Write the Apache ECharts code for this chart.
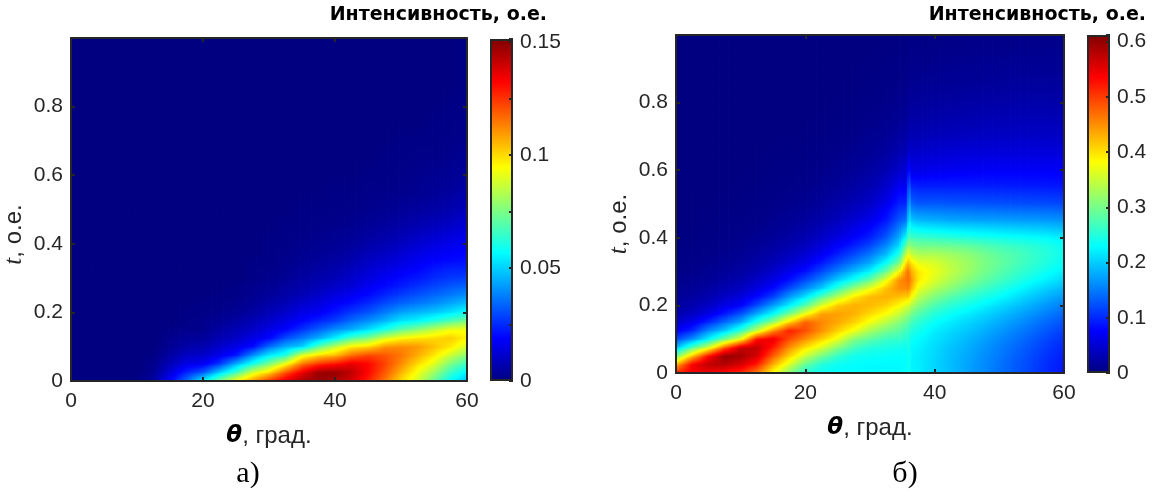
<!DOCTYPE html>
<html><head><meta charset="utf-8">
<script src="https://cdn.jsdelivr.net/npm/echarts/dist/echarts.min.js"></script>
<style>html,body{margin:0;padding:0;background:#fff}#c{width:1153px;height:504px}</style>
</head><body><div id="c"></div>
<script>
// ---------- data (node values) ----------
const thetaA = [0,2.5,5,7.5,10,12.5,15,17.5,20,22.5,25,27.5,30,32.5,35,37.5,40,42.5,45,47.5,50,52.5,55,57.5,60];
const thetaB = [0,2.5,5,7.5,10,12.5,15,17.5,20,22.5,25,27.5,30,32.5,34.5,35.7,36,36.3,37.5,40,42.5,45,47.5,50,52.5,55,57.5,60];
const tLevels = [0,0.025,0.05,0.075,0.1,0.125,0.15,0.175,0.2,0.225,0.25,0.275,0.3,0.325,0.35,0.375,0.4,0.45,0.5,0.55,0.6,0.65,0.7,0.75,0.8,0.85,0.9,0.95,1];
const thetaTicks = [0,20,40,60];
const tTicks = [0,0.2,0.4,0.6,0.8];
const barTicksA = [0,0.05,0.1,0.15];
const barTicksB = [0,0.1,0.2,0.3,0.4,0.5,0.6];
const rangeA = [0,0.1513];
const rangeB = [0,0.612];

// intensity a): rows = tLevels, columns = thetaA
const intensityA = [
[0,0,0,0,.001,.005,.019,.035,.056,.075,.095,.110,.125,.137,.145,.148,.145,.138,.128,.115,.100,.088,.072,.057,.047],
[0,0,0,0,0,.003,.013,.024,.032,.050,.066,.088,.100,.120,.135,.147,.148,.142,.132,.120,.106,.093,.080,.065,.055],
[0,0,0,0,0,.002,.008,.015,.017,.027,.045,.060,.075,.093,.115,.125,.130,.136,.132,.123,.112,.100,.090,.075,.065],
[0,0,0,0,0,.001,.005,.010,.011,.016,.022,.040,.054,.062,.090,.100,.105,.116,.122,.120,.115,.107,.098,.087,.077],
[0,0,0,0,0,0,.003,.006,.007,.011,.015,.020,.035,.045,.050,.070,.085,.097,.100,.110,.112,.110,.104,.098,.088],
[0,0,0,0,0,0,.002,.004,.004,.0075,.010,.015,.019,.030,.037,.045,.055,.068,.075,.088,.095,.098,.100,.102,.096],
[0,0,0,0,0,0,.001,.002,.002,.005,.008,.010,.015,.019,.026,.033,.040,.045,.052,.060,.070,.077,.085,.092,.093],
[0,0,0,0,0,0,0,.001,.002,.003,.005,.008,.011,.015,.019,.024,.028,.035,.040,.046,.053,.056,.062,.068,.075],
[0,0,0,0,0,0,0,.001,.001,.002,.003,.005,.008,.011,.015,.017,.022,.027,.031,.037,.043,.046,.049,.053,.058],
[0,0,0,0,0,0,0,0,.001,.001,.002,.0035,.006,.008,.012,.014,.018,.021,.025,.030,.034,.037,.040,.044,.048],
[0,0,0,0,0,0,0,0,0,.001,.001,.0025,.004,.006,.008,.011,.014,.017,.020,.024,.028,.031,.034,.037,.040],
[0,0,0,0,0,0,0,0,0,0,.001,.002,.003,.0045,.0065,.008,.011,.013,.017,.020,.023,.026,.029,.032,.034],
[0,0,0,0,0,0,0,0,0,0,0,.001,.002,.003,.005,.0065,.008,.011,.014,.017,.020,.022,.025,.027,.028],
[0,0,0,0,0,0,0,0,0,0,0,.001,.0015,.0025,.004,.005,.0065,.009,.012,.0145,.017,.019,.022,.024,.024],
[0,0,0,0,0,0,0,0,0,0,0,.001,.001,.002,.003,.004,.005,.007,.010,.012,.014,.017,.019,.020,.021],
[0,0,0,0,0,0,0,0,0,0,0,0,.001,.0015,.0025,.003,.004,.0055,.008,.0095,.012,.0145,.0165,.018,.019],
[0,0,0,0,0,0,0,0,0,0,0,0,.001,.001,.002,.0025,.003,.004,.006,.0075,.0095,.012,.014,.016,.017],
[0,0,0,0,0,0,0,0,0,0,0,0,0,.001,.001,.0015,.002,.0025,.0035,.0045,.006,.0075,.009,.011,.013],
[0,0,0,0,0,0,0,0,0,0,0,0,0,0,.001,.001,.001,.0015,.002,.0025,.0035,.0045,.0055,.007,.009],
[0,0,0,0,0,0,0,0,0,0,0,0,0,0,0,0,.001,.001,.0015,.0015,.002,.0025,.0035,.0045,.006],
[0,0,0,0,0,0,0,0,0,0,0,0,0,0,0,0,0,0,.001,.001,.0015,.002,.0025,.003,.004],
[0,0,0,0,0,0,0,0,0,0,0,0,0,0,0,0,0,0,0,.001,.001,.0015,.0015,.002,.003],
[0,0,0,0,0,0,0,0,0,0,0,0,0,0,0,0,0,0,0,0,.001,.001,.001,.0015,.002],
[0,0,0,0,0,0,0,0,0,0,0,0,0,0,0,0,0,0,0,0,0,0,.001,.001,.0015],
[0,0,0,0,0,0,0,0,0,0,0,0,0,0,0,0,0,0,0,0,0,0,0,.001,.001],
[0,0,0,0,0,0,0,0,0,0,0,0,0,0,0,0,0,0,0,0,0,0,0,0,.001],
[0,0,0,0,0,0,0,0,0,0,0,0,0,0,0,0,0,0,0,0,0,0,0,0,.001],
[0,0,0,0,0,0,0,0,0,0,0,0,0,0,0,0,0,0,0,0,0,0,0,0,.001],
[0,0,0,0,0,0,0,0,0,0,0,0,0,0,0,0,0,0,0,0,0,0,0,0,.001]
];

// intensity б): rows = tLevels, columns = thetaB
const intensityB = [
[.52,.54,.54,.53,.51,.46,.38,.31,.25,.235,.23,.228,.225,.225,.225,.23,.245,.225,.22,.205,.19,.175,.16,.145,.13,.115,.10,.088],
[.43,.54,.575,.58,.56,.52,.43,.36,.29,.25,.235,.23,.228,.227,.227,.23,.245,.225,.22,.205,.19,.176,.161,.146,.131,.117,.102,.09],
[.30,.42,.53,.60,.59,.56,.48,.41,.35,.30,.26,.24,.235,.232,.23,.23,.245,.225,.22,.206,.191,.178,.163,.149,.134,.12,.105,.093],
[.19,.28,.36,.48,.57,.575,.52,.45,.40,.36,.31,.27,.25,.245,.24,.235,.25,.228,.222,.208,.194,.182,.167,.153,.139,.125,.11,.098],
[.12,.165,.225,.30,.375,.53,.55,.49,.45,.41,.37,.31,.285,.265,.26,.25,.255,.235,.228,.213,.20,.188,.174,.16,.146,.132,.117,.105],
[.07,.10,.16,.20,.26,.35,.45,.52,.49,.45,.41,.375,.33,.30,.285,.265,.265,.25,.24,.22,.207,.196,.183,.169,.155,.141,.127,.114],
[.045,.065,.10,.14,.18,.25,.32,.41,.48,.455,.435,.41,.375,.34,.31,.29,.285,.27,.255,.232,.218,.206,.194,.18,.166,.152,.138,.125],
[.028,.04,.06,.09,.125,.18,.23,.30,.375,.44,.44,.43,.405,.38,.35,.32,.32,.30,.28,.25,.234,.22,.207,.193,.179,.165,.151,.138],
[.02,.028,.04,.06,.075,.12,.17,.22,.28,.36,.415,.43,.425,.41,.385,.36,.36,.34,.31,.275,.255,.24,.225,.21,.195,.18,.166,.152],
[.014,.02,.028,.042,.055,.08,.115,.17,.215,.28,.34,.395,.425,.43,.42,.41,.41,.385,.34,.305,.28,.262,.245,.23,.213,.197,.182,.168],
[.01,.014,.02,.03,.038,.058,.08,.12,.16,.20,.26,.32,.37,.42,.45,.45,.46,.43,.37,.335,.31,.287,.268,.25,.233,.215,.20,.185],
[.007,.01,.014,.021,.028,.042,.06,.085,.12,.155,.20,.24,.29,.37,.45,.465,.475,.45,.395,.36,.332,.31,.288,.27,.252,.235,.22,.205],
[.005,.007,.011,.016,.02,.031,.045,.065,.085,.12,.155,.19,.225,.29,.38,.46,.47,.435,.395,.37,.345,.323,.302,.283,.265,.25,.235,.22],
[.004,.005,.008,.012,.016,.024,.034,.048,.065,.09,.12,.15,.18,.235,.30,.415,.425,.40,.37,.36,.34,.325,.305,.29,.274,.259,.246,.232],
[.003,.004,.006,.009,.012,.018,.026,.037,.05,.07,.095,.12,.15,.19,.25,.36,.38,.35,.335,.335,.325,.315,.30,.286,.275,.262,.25,.238],
[.002,.003,.004,.007,.009,.014,.02,.028,.038,.055,.075,.095,.12,.16,.21,.30,.33,.31,.30,.30,.295,.29,.28,.27,.263,.255,.246,.235],
[.002,.002,.003,.005,.007,.01,.015,.022,.03,.042,.058,.075,.095,.13,.18,.24,.29,.27,.265,.26,.255,.25,.245,.24,.236,.232,.228,.22],
[.001,.001,.002,.003,.004,.006,.009,.013,.018,.026,.037,.05,.065,.09,.13,.15,.235,.20,.19,.185,.18,.178,.176,.175,.173,.172,.17,.167],
[0,.001,.001,.002,.0025,.004,.0055,.008,.011,.016,.024,.033,.043,.065,.095,.10,.20,.14,.13,.13,.128,.127,.126,.125,.124,.123,.122,.12],
[0,0,.001,.001,.0015,.0025,.0035,.005,.007,.011,.015,.021,.03,.045,.07,.07,.16,.10,.095,.095,.095,.095,.095,.094,.093,.092,.091,.09],
[0,0,0,.001,.001,.0015,.002,.003,.004,.007,.01,.014,.02,.03,.045,.05,.10,.06,.062,.066,.068,.07,.071,.072,.072,.072,.072,.072],
[0,0,0,0,0,.001,.0015,.002,.0025,.004,.007,.01,.014,.02,.03,.034,.055,.045,.047,.05,.052,.054,.055,.056,.056,.056,.056,.056],
[0,0,0,0,0,0,.001,.001,.0015,.0025,.004,.006,.01,.013,.02,.023,.033,.032,.033,.035,.037,.039,.04,.041,.042,.042,.042,.042],
[0,0,0,0,0,0,0,.001,.001,.0015,.0025,.004,.006,.009,.013,.016,.023,.023,.024,.026,.028,.029,.031,.032,.033,.033,.033,.033],
[0,0,0,0,0,0,0,0,0,.001,.0015,.0025,.004,.006,.009,.01,.016,.016,.017,.019,.02,.022,.023,.024,.025,.025,.025,.025],
[0,0,0,0,0,0,0,0,0,0,.001,.0015,.0025,.004,.006,.007,.011,.011,.012,.013,.014,.015,.016,.017,.018,.018,.018,.018],
[0,0,0,0,0,0,0,0,0,0,0,.001,.0015,.0025,.004,.005,.007,.007,.008,.009,.01,.011,.012,.012,.013,.013,.013,.013],
[0,0,0,0,0,0,0,0,0,0,0,0,.001,.0015,.0025,.003,.005,.005,.005,.006,.007,.007,.008,.008,.009,.009,.009,.009],
[0,0,0,0,0,0,0,0,0,0,0,0,0,.001,.0015,.002,.003,.003,.003,.004,.004,.005,.005,.005,.006,.006,.006,.006]
];

// ---------- sanity checks ----------
function check(name, grid, cols) {
  if (grid.length !== tLevels.length) throw new Error(name + ' rows ' + grid.length);
  grid.forEach((r, j) => { if (r.length !== cols.length) throw new Error(name + ' row ' + j + ' has ' + r.length); });
}
check('A', intensityA, thetaA);
check('B', intensityB, thetaB);

// ---------- colour map (jet) ----------
function jet(x) {
  const c = v => Math.max(0, Math.min(1, v));
  const r = c(Math.min(4 * x - 1.5, -4 * x + 4.5));
  const g = c(Math.min(4 * x - 0.5, -4 * x + 3.5));
  const b = c(Math.min(4 * x + 0.5, -4 * x + 2.5));
  const h = v => Math.round(v * 255).toString(16).padStart(2, '0');
  return '#' + h(r) + h(g) + h(b);
}
const jetStops = [0, 0.125, 0.375, 0.625, 0.875, 1].map(f => ({ offset: f, color: jet(f) }));

// faces between neighbouring grid nodes (surface with interpolated shading)
function faces(thetas, ts, grid) {
  const out = [];
  for (let j = 0; j < ts.length - 1; j++) {
    for (let i = 0; i < thetas.length - 1; i++) {
      const v00 = grid[j][i], v10 = grid[j][i + 1], v01 = grid[j + 1][i], v11 = grid[j + 1][i + 1];
      out.push([(thetas[i] + thetas[i + 1]) / 2, (ts[j] + ts[j + 1]) / 2, (v00 + v10 + v01 + v11) / 4,
                thetas[i], thetas[i + 1], ts[j], ts[j + 1], v00, v10, v01, v11]);
    }
  }
  return out;
}

function makeRender(range) {
  const lo = range[0], hi = range[1];
  const bps = [0.125, 0.375, 0.625, 0.875].map(f => lo + f * (hi - lo));
  const col = v => jet(Math.max(0, Math.min(1, (v - lo) / (hi - lo))));
  return function (params, api) {
    const xL = api.value(3), xR = api.value(4), yB = api.value(5), yT = api.value(6);
    const v00 = api.value(7), v10 = api.value(8), v01 = api.value(9), v11 = api.value(10);
    const a = api.coord([xL, yT]), b = api.coord([xR, yB]);
    const w = b[0] - a[0], h = b[1] - a[1];
    const n = Math.max(1, Math.ceil(w / 2));
    const children = [];
    for (let k = 0; k < n; k++) {
      const fx = (k + 0.5) / n;
      const vb = v00 + (v10 - v00) * fx, vt = v01 + (v11 - v01) * fx;
      const stops = [{ offset: 0, color: col(vb) }];
      if (vt !== vb) bps.forEach(p => { const f = (p - vb) / (vt - vb); if (f > 0 && f < 1) stops.push({ offset: f, color: col(p) }); });
      stops.push({ offset: 1, color: col(vt) });
      stops.sort((s, t) => s.offset - t.offset);
      children.push({ type: 'rect',
        shape: { x: a[0] + w * k / n, y: a[1] - 0.4, width: w / n + 0.8, height: h + 0.8 },
        style: { fill: new echarts.graphic.LinearGradient(0, 1, 0, 0, stops) } });
    }
    return { type: 'group', children: children };
  };
}

const FRAME = '#262626';
const SANS = '"Liberation Sans", Arial, sans-serif';
const lbl = { fontFamily: SANS, fontSize: 21, color: '#262626' };
const isTick = (list, v) => list.some(t => Math.abs(t - v) < 1e-9);
const fmt = v => String(+v.toFixed(3));

function frameAxis(extra) {
  return Object.assign({
    type: 'value', z: 10,
    axisLine: { show: true, onZero: false, lineStyle: { color: FRAME, width: 2 } },
    axisTick: { show: true, inside: true, length: 4, lineStyle: { color: FRAME, width: 2 } },
    splitLine: { show: false }
  }, extra);
}

const grids = [
  { left: 71, top: 38, width: 396, height: 343 },   // a) map
  { left: 490, top: 39, width: 23, height: 342 },   // a) colour bar
  { left: 676, top: 35, width: 388, height: 338 },  // б) map
  { left: 1087, top: 35, width: 23, height: 338 }   // б) colour bar
];

const xAxes = [], yAxes = [];
function mapAxes(gi, yShift) {
  xAxes.push(frameAxis({ gridIndex: gi, position: 'bottom', min: thetaTicks[0], max: thetaTicks[thetaTicks.length - 1],
    interval: thetaTicks[1] - thetaTicks[0],
    axisLabel: Object.assign({ margin: 10, formatter: v => isTick(thetaTicks, v) ? fmt(v) : '' }, lbl),
    name: '{th|θ}, град.', nameLocation: 'middle', nameGap: 43,
    nameTextStyle: Object.assign({}, lbl, { fontSize: 24, rich: { th: { fontFamily: '"DejaVu Sans"', fontStyle: 'italic', fontWeight: 'bold', fontSize: 23, color: '#000' } } })
  }));
  xAxes.push(frameAxis({ gridIndex: gi, position: 'top', min: thetaTicks[0], max: thetaTicks[thetaTicks.length - 1],
    interval: thetaTicks[1] - thetaTicks[0], axisLabel: { show: false } }));
  yAxes.push(frameAxis({ gridIndex: gi, position: 'left', min: 0, max: 1, interval: tTicks[1] - tTicks[0],
    axisLabel: Object.assign({ margin: 8, formatter: v => isTick(tTicks, v) ? fmt(v) : '' }, lbl),
    name: '{it|t}, о.е.', nameLocation: 'middle', nameGap: 44,
    nameTextStyle: Object.assign({}, lbl, { fontSize: 24, padding: [0, yShift * 2, 0, 0],
      rich: { it: { fontFamily: '"Liberation Serif"', fontStyle: 'italic', fontSize: 25, color: '#262626' } } })
  }));
  yAxes.push(frameAxis({ gridIndex: gi, position: 'right', min: 0, max: 1, interval: tTicks[1] - tTicks[0],
    axisLabel: { show: false } }));
}
function barAxes(gi, range, ticks, step) {
  xAxes.push({ type: 'category', gridIndex: gi, data: ['bar'], show: false });
  yAxes.push({ type: 'value', gridIndex: gi, position: 'right', min: range[0], max: range[1], interval: step, z: 10,
    axisLine: { show: false },
    axisTick: { show: true, inside: true, length: 4, lineStyle: { color: FRAME, width: 2 } },
    splitLine: { show: false },
    axisLabel: Object.assign({ margin: 7, formatter: v => isTick(ticks, v) ? fmt(v) : '' }, lbl) });
}
mapAxes(0, 25);                       // x 0,1  y 0,1
barAxes(1, rangeA, barTicksA, 0.025); // x 2    y 2
mapAxes(2, 20);                       // x 3,4  y 3,4
barAxes(3, rangeB, barTicksB, 0.1);   // x 5    y 5

const gradient = () => new echarts.graphic.LinearGradient(0, 1, 0, 0, jetStops);

const option = {
  animation: false,
  grid: grids,
  xAxis: xAxes,
  yAxis: yAxes,
  series: [
    { type: 'custom', xAxisIndex: 0, yAxisIndex: 0, data: faces(thetaA, tLevels, intensityA),
      encode: { x: 0, y: 1 }, renderItem: makeRender(rangeA), clip: true, silent: true, z: 2 },
    { type: 'bar', xAxisIndex: 2, yAxisIndex: 2, data: [rangeA[1]], barWidth: '100%', silent: true,
      itemStyle: { color: gradient(), borderColor: FRAME, borderWidth: 2 } },
    { type: 'custom', xAxisIndex: 3, yAxisIndex: 3, data: faces(thetaB, tLevels, intensityB),
      encode: { x: 0, y: 1 }, renderItem: makeRender(rangeB), clip: true, silent: true, z: 2 },
    { type: 'bar', xAxisIndex: 5, yAxisIndex: 5, data: [rangeB[1]], barWidth: '100%', silent: true,
      itemStyle: { color: gradient(), borderColor: FRAME, borderWidth: 2 } }
  ],
  graphic: [
    { type: 'text', x: 547, y: 15, style: { text: 'Интенсивность, о.е.', align: 'right', verticalAlign: 'middle',
      font: 'bold 19px "DejaVu Sans"', fill: '#000' } },
    { type: 'text', x: 1146, y: 15, style: { text: 'Интенсивность, о.е.', align: 'right', verticalAlign: 'middle',
      font: 'bold 19px "DejaVu Sans"', fill: '#000' } },
    { type: 'text', x: 248, y: 474, style: { text: 'а)', align: 'center', verticalAlign: 'middle',
      font: '30px "Liberation Serif"', fill: '#000' } },
    { type: 'text', x: 905, y: 474, style: { text: 'б)', align: 'center', verticalAlign: 'middle',
      font: '30px "Liberation Serif"', fill: '#000' } }
  ]
};

const chart = echarts.init(document.getElementById('c'), null, { renderer: 'canvas' });
chart.setOption(option);
</script></body></html>
